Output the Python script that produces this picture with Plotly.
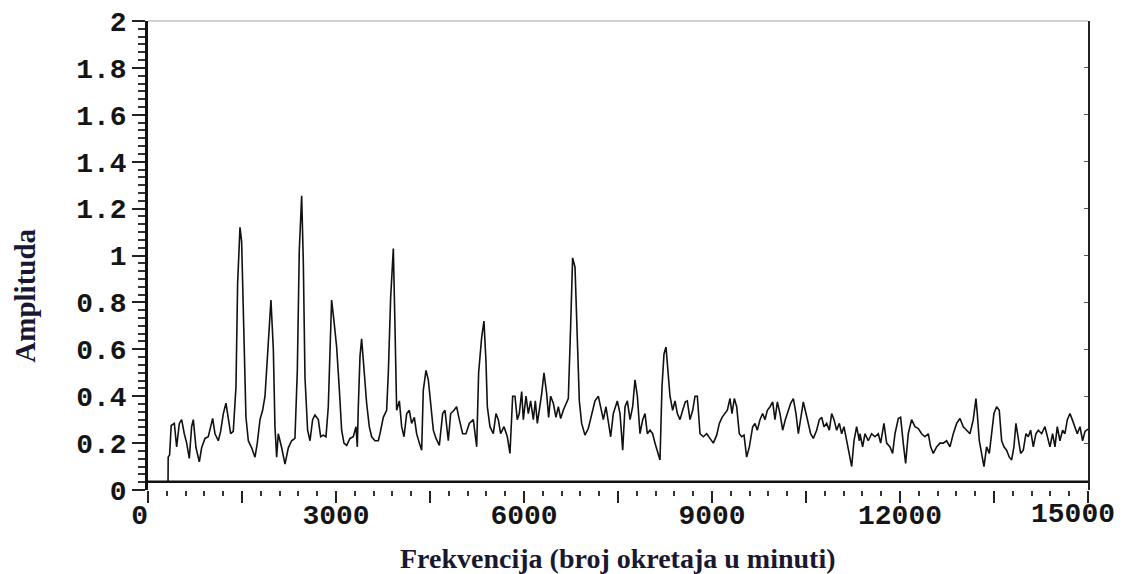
import plotly.graph_objects as go

# ---- data ----
freq_a = [320, 322, 345, 370, 420, 457, 500, 537, 579, 617, 659, 696, 723, 766, 819, 856, 909, 962, 1000, 1032,
          1069, 1122, 1159, 1202, 1244, 1282, 1319, 1361, 1404, 1430, 1468, 1494, 1521, 1563, 1601, 1654, 1707, 1744,
          1787, 1829, 1867, 1920, 1962, 2000, 2026, 2053, 2079, 2133, 2186, 2239, 2292, 2345, 2383, 2414, 2452, 2478,
          2505, 2547, 2585, 2627, 2664, 2718, 2755, 2797, 2840, 2877, 2904, 2930, 2968, 3010, 3053, 3090, 3127, 3170,
          3223, 3276, 3319, 3340, 3356, 3383, 3409, 3446, 3489, 3531, 3569, 3622, 3675]
amp_a = [0.035, 0.14, 0.15, 0.275, 0.284, 0.184, 0.284, 0.30, 0.24, 0.20, 0.135, 0.27, 0.30, 0.18, 0.12, 0.18, 0.22,
         0.227, 0.27, 0.305, 0.24, 0.21, 0.25, 0.326, 0.37, 0.30, 0.24, 0.25, 0.44, 0.88, 1.12, 1.06, 0.72, 0.31, 0.21,
         0.18, 0.14, 0.20, 0.30, 0.34, 0.40, 0.65, 0.81, 0.60, 0.27, 0.14, 0.24, 0.18, 0.11, 0.18, 0.21, 0.22, 0.51,
         1.02, 1.255, 0.98, 0.48, 0.255, 0.21, 0.30, 0.32, 0.30, 0.227, 0.234, 0.227, 0.355, 0.62, 0.81, 0.72, 0.61,
         0.43, 0.255, 0.20, 0.19, 0.22, 0.227, 0.27, 0.184, 0.355, 0.57, 0.645, 0.50, 0.37, 0.27, 0.227, 0.21, 0.21]

freq_b = [3702, 3755, 3808, 3835, 3872, 3915, 3941, 3968, 4011, 4048, 4085, 4128, 4170, 4207, 4250, 4287, 4330, 4367,
          4393, 4436, 4473, 4510, 4553, 4596, 4649, 4702, 4739, 4792, 4830, 4883, 4925, 4968, 5021, 5074, 5127, 5191,
          5245, 5276, 5324, 5361, 5393, 5415, 5457, 5510, 5553, 5590, 5627, 5681, 5734, 5776, 5819, 5856, 5893, 5925,
          5963, 5989, 6032, 6069, 6106, 6149, 6181, 6213, 6244, 6282, 6319, 6362, 6393, 6425, 6468, 6510, 6548, 6585,
          6627, 6670, 6707, 6744, 6776, 6814, 6851, 6883, 6920, 6973, 7026, 7080, 7133, 7186, 7223, 7266, 7308, 7351,
          7383, 7425, 7489, 7532]
amp_b = [0.24, 0.31, 0.34, 0.50, 0.82, 1.03, 0.70, 0.34, 0.38, 0.27, 0.227, 0.326, 0.34, 0.284, 0.31, 0.24, 0.20, 0.17,
         0.425, 0.51, 0.47, 0.38, 0.255, 0.22, 0.19, 0.326, 0.34, 0.21, 0.326, 0.34, 0.355, 0.30, 0.24, 0.24, 0.284,
         0.30, 0.184, 0.50, 0.65, 0.72, 0.55, 0.355, 0.27, 0.24, 0.326, 0.30, 0.24, 0.27, 0.227, 0.156, 0.40, 0.40,
         0.30, 0.326, 0.42, 0.30, 0.40, 0.326, 0.38, 0.30, 0.38, 0.284, 0.34, 0.41, 0.50, 0.41, 0.31, 0.40, 0.37, 0.31,
         0.355, 0.305, 0.34, 0.37, 0.39, 0.695, 0.99, 0.95, 0.68, 0.38, 0.284, 0.234, 0.262, 0.326, 0.38, 0.40, 0.355,
         0.30, 0.355, 0.27, 0.227, 0.326, 0.38, 0.326]

freq_c = [7575, 7612, 7649, 7692, 7734, 7771, 7809, 7851, 7894, 7931, 7968, 8011, 8053, 8090, 8128, 8170, 8202, 8234,
          8266, 8303, 8330, 8372, 8410, 8447, 8489, 8532, 8575, 8606, 8649, 8692, 8729, 8766, 8809, 8862, 8915, 8968,
          9021, 9075, 9117, 9160, 9208, 9245, 9287, 9319, 9356, 9394, 9436, 9473, 9511, 9553, 9596, 9649, 9686, 9723,
          9766, 9808, 9846, 9883, 9926, 9968, 10005, 10043, 10085, 10128, 10170, 10218, 10255, 10298, 10340, 10378,
          10415, 10457, 10500, 10537, 10574, 10617, 10670, 10713, 10750, 10787, 10830, 10872, 10910, 10947, 10989,
          11032, 11069, 11106, 11149, 11191, 11229, 11266, 11308, 11351]
amp_c = [0.17, 0.355, 0.38, 0.30, 0.355, 0.47, 0.40, 0.24, 0.30, 0.326, 0.24, 0.255, 0.24, 0.20, 0.17, 0.128, 0.44,
         0.58, 0.61, 0.48, 0.40, 0.34, 0.38, 0.326, 0.30, 0.34, 0.376, 0.38, 0.30, 0.34, 0.40, 0.40, 0.24, 0.227, 0.24,
         0.22, 0.20, 0.234, 0.284, 0.31, 0.326, 0.34, 0.39, 0.326, 0.39, 0.355, 0.24, 0.227, 0.234, 0.14, 0.184, 0.27,
         0.284, 0.255, 0.30, 0.326, 0.30, 0.34, 0.355, 0.376, 0.30, 0.376, 0.326, 0.255, 0.30, 0.34, 0.37, 0.39, 0.326,
         0.24, 0.30, 0.376, 0.326, 0.284, 0.24, 0.22, 0.255, 0.30, 0.31, 0.27, 0.284, 0.255, 0.326, 0.30, 0.255, 0.284,
         0.24, 0.27, 0.21, 0.14, 0.10, 0.21, 0.27, 0.21]

freq_d = [11361, 11404, 11441, 11494, 11547, 11600, 11654, 11691, 11744, 11787, 11840, 11882, 11920, 11973, 12010,
          12052, 12090, 12132, 12185, 12239, 12292, 12345, 12398, 12451, 12489, 12531, 12584, 12638, 12691, 12744,
          12797, 12850, 12904, 12957, 13010, 13063, 13116, 13169, 13212, 13233, 13265, 13302, 13340, 13382, 13425,
          13462, 13499, 13542, 13584, 13622, 13659, 13701, 13744, 13781, 13818, 13850, 13888, 13925, 13967, 14010,
          14047, 14084, 14127, 14169, 14207, 14260, 14313, 14350, 14393, 14435, 14473, 14510, 14552, 14595, 14632,
          14670, 14712, 14749, 14792, 14829, 14872, 14914, 14952, 15000]
amp_d = [0.24, 0.184, 0.24, 0.21, 0.24, 0.227, 0.24, 0.20, 0.284, 0.20, 0.184, 0.156, 0.24, 0.305, 0.31, 0.20, 0.113,
         0.24, 0.30, 0.27, 0.262, 0.24, 0.227, 0.24, 0.184, 0.156, 0.184, 0.20, 0.20, 0.21, 0.184, 0.24, 0.284, 0.305,
         0.27, 0.255, 0.24, 0.30, 0.39, 0.326, 0.21, 0.156, 0.10, 0.184, 0.156, 0.24, 0.326, 0.355, 0.34, 0.21, 0.184,
         0.17, 0.14, 0.128, 0.184, 0.284, 0.227, 0.156, 0.17, 0.24, 0.227, 0.255, 0.184, 0.24, 0.255, 0.24, 0.27,
         0.227, 0.184, 0.24, 0.184, 0.27, 0.21, 0.255, 0.24, 0.30, 0.326, 0.30, 0.27, 0.24, 0.27, 0.21, 0.25, 0.26]

baseline_freq = [0, 15000]
baseline_amp = [0.035, 0.035]

x_tickvals = [0, 1500, 3000, 4500, 6000, 7500, 9000, 10500, 12000, 13500, 15000]
x_ticktext = ["0\u00a0", "", "3000", "", "6000", "", "9000", "", "12000", "", ""]
x_last_label = "15000"   # drawn pulled in from the right edge, as in the original
x_last_value = 15000
y_tickvals = [0, 0.2, 0.4, 0.6, 0.8, 1.0, 1.2, 1.4, 1.6, 1.8, 2.0]
y_ticktext = ["0", "0.2", "0.4", "0.6", "0.8", "1", "1.2", "1.4", "1.6", "1.8", "2"]

x_title = "Frekvencija (broj okretaja u minuti)"
y_title = "Amplituda"

for f_, a_ in ((freq_a, amp_a), (freq_b, amp_b), (freq_c, amp_c), (freq_d, amp_d)):
    assert len(f_) == len(a_)

freq = freq_a + freq_b + freq_c + freq_d
amp = amp_a + amp_b + amp_c + amp_d

tick_font = dict(family="Liberation Mono", size=28, color="#151515", weight="bold")
title_font_x = dict(family="Liberation Serif", size=28, color="#1a1830", weight="bold")
title_font_y = dict(family="Liberation Serif", size=29, color="#1a1830", weight="bold")

fig = go.Figure()
fig.add_trace(go.Scatter(x=baseline_freq, y=baseline_amp, mode="lines",
                         line=dict(color="#111111", width=2.5), hoverinfo="skip", showlegend=False))
fig.add_trace(go.Scatter(x=freq, y=amp, mode="lines",
                         line=dict(color="#111111", width=1.6), showlegend=False))
# right-hand frame axis (inside ticks)
fig.add_trace(go.Scatter(x=baseline_freq, y=baseline_amp, yaxis="y2", mode="lines",
                         line=dict(color="rgba(0,0,0,0)", width=0), hoverinfo="skip", showlegend=False))

fig.update_layout(
    width=1126, height=574,
    margin=dict(l=148, r=38, t=21, b=84),
    paper_bgcolor="white", plot_bgcolor="white",
    xaxis=dict(range=[0, 15000], tickmode="array", tickvals=x_tickvals, ticktext=x_ticktext,
               ticks="outside", ticklen=12, tickwidth=1.5, tickcolor="#222",
               minor=dict(dtick=300, ticks="outside", ticklen=5, tickwidth=1.5, tickcolor="#333"),
               showline=False, showgrid=False, zeroline=False, tickfont=tick_font,
               ticklabelstandoff=-13, ticklabeloverflow="allow", automargin=False),
    yaxis=dict(range=[0, 2], tickmode="array", tickvals=y_tickvals, ticktext=y_ticktext,
               ticks="outside", ticklen=13, tickwidth=1.5, tickcolor="#222",
               minor=dict(dtick=0.2 / 6, ticks="outside", ticklen=7, tickwidth=1.5, tickcolor="#333"),
               showline=True, linecolor="#111", linewidth=2.5,
               showgrid=False, zeroline=False, tickfont=tick_font, ticklabelstandoff=0,
               ticklabeloverflow="allow", automargin=False),
    yaxis2=dict(range=[0, 2], overlaying="y", side="right", showticklabels=False,
                ticks="inside", ticklen=4, tickwidth=1, tickcolor="#555", dtick=0.2,
                showline=True, linecolor="#222", linewidth=2, showgrid=False, zeroline=False,
                automargin=False),
    shapes=[dict(type="line", xref="paper", yref="paper", x0=0, x1=1, y0=1, y1=1,
                 line=dict(color="#c0c0c0", width=1.5))],
    annotations=[
        dict(text=y_title, xref="paper", yref="paper", x=-0.131, y=0.414,
             textangle=-90, showarrow=False, font=title_font_y, xanchor="center", yanchor="middle"),
        dict(text=x_title, xref="paper", yref="paper", x=0.5, y=-0.145,
             showarrow=False, font=title_font_x, xanchor="center", yanchor="middle"),
        dict(text=x_last_label, xref="x", yref="paper", x=x_last_value, y=-0.052, xshift=-15,
             showarrow=False, font=tick_font, xanchor="center", yanchor="middle"),
    ],
)

fig.write_html("out.html", config={"displayModeBar": False},
               post_script="document.body.style.margin='0';document.body.style.overflow='hidden';")
